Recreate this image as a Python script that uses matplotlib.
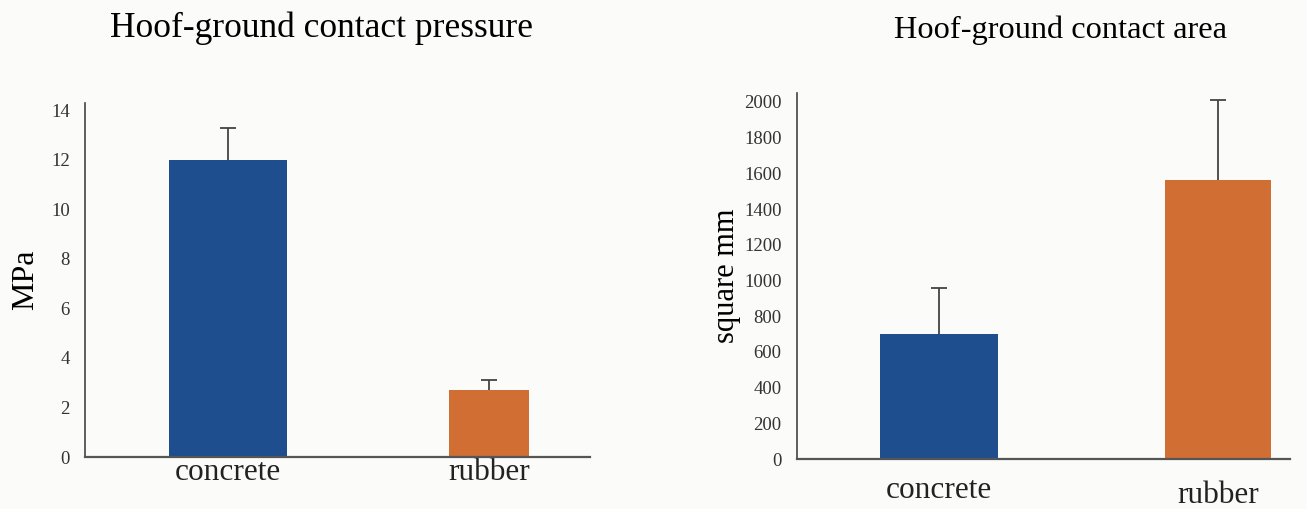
import matplotlib.pyplot as plt
import numpy as np

plt.rcParams['font.family'] = ['Liberation Serif', 'DejaVu Serif']

# Data
categories = ["concrete", "rubber"]
pressure_mpa = [12.0, 2.7]
pressure_err = [1.3, 0.4]
area_mm2 = [700, 1560]
area_err = [260, 450]

bar_colors = ["#1f4e8e", "#d06e34"]
bg = "#fbfbfa"
err_style = dict(ecolor="#444444", elinewidth=1.3, capsize=6, capthick=1.3)

fig = plt.figure(figsize=(13.07, 5.09), dpi=100, facecolor=bg)
x = np.arange(len(categories))

# Left panel: contact pressure
ax1 = fig.add_axes([85 / 1307, 52 / 509, 505 / 1307, 354 / 509], facecolor=bg)
b1 = ax1.bar(x, pressure_mpa, width=[0.45, 0.31], color=bar_colors,
             yerr=[[0, 0], pressure_err], error_kw=err_style)
ax1.set_xlim(-0.548, 1.387)
ax1.set_ylim(0, 14.3)
ax1.set_yticks(np.arange(0, 15, 2))
ax1.set_xticks(x, categories, fontsize=22.5)
ax1.set_ylabel("MPa", fontsize=23, labelpad=8)
fig.text(322 / 1307, 1 - 28 / 509, "Hoof-ground contact pressure", fontsize=25.5,
         ha="center", va="center")

# Right panel: contact area
ax2 = fig.add_axes([797 / 1307, 50 / 509, 493 / 1307, 366 / 509], facecolor=bg)
b2 = ax2.bar(x, area_mm2, width=[0.423, 0.38], color=bar_colors,
             yerr=[[0, 0], area_err], error_kw=err_style)
ax2.set_xlim(-0.509, 1.258)
ax2.set_ylim(0, 2050)
ax2.set_yticks(np.arange(0, 2001, 200))
ax2.set_xticks(x, categories, fontsize=22.5)
ax2.set_ylabel("square mm", fontsize=22, labelpad=2)
fig.text(1060 / 1307, 1 - 30 / 509, "Hoof-ground contact area", fontsize=23.3,
         ha="center", va="center")

# only the upper cap is shown in the reference
for b in (b1, b2):
    caps = b.errorbar.lines[1]
    caps[0].set_visible(False)

for ax in (ax1, ax2):
    for s in ("top", "right"):
        ax.spines[s].set_visible(False)
    ax.spines["left"].set_color("#444444")
    ax.spines["bottom"].set_color("#555555")
    ax.spines["left"].set_linewidth(1.2)
    ax.spines["bottom"].set_linewidth(1.6)
    ax.tick_params(axis="y", length=0, pad=11, labelsize=13.5, labelcolor="#333333")
    ax.tick_params(axis="x", length=0, labelcolor="#222222")

ax1.tick_params(axis="x", pad=1)
ticks2 = ax2.xaxis.get_major_ticks()
ticks2[0].set_pad(12)
ticks2[1].set_pad(16)

fig.savefig("out.png", dpi=100, facecolor=bg)
